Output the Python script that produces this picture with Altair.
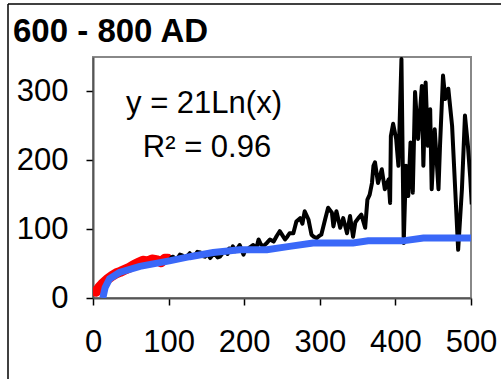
import altair as alt
import pandas as pd

# ---- data ----
red_x = [4, 8, 12, 16, 20, 25, 31, 36, 42, 48, 54, 60, 66, 72, 78, 84, 90, 95, 99]
red_y = [9, 15, 20, 24, 28, 32, 36, 38, 41, 44, 48, 51, 54, 53, 56, 55, 52, 57, 57]

black_x = [101, 104, 106, 109, 112, 115, 118, 121, 124, 128, 131, 135, 138, 142, 145,
           148, 152, 155, 158, 162, 165, 168, 172, 175, 178, 180, 183, 185, 188,
           190, 194, 197, 199, 202, 204, 208, 212, 216, 219, 222, 225, 230, 234, 239, 243,
           247, 250, 254, 257, 260, 265, 269, 274, 277, 280, 285, 289, 292, 296, 299, 302,
           307, 311, 316, 318, 322, 327, 331, 336, 340, 344, 347, 351, 355, 360, 363, 366,
           369, 371, 373, 377, 382, 386, 391, 393, 394, 397, 401, 404, 408, 411, 414, 417,
           420, 423, 426, 430, 435, 437, 440, 443, 446, 448, 452, 457, 459, 463, 466, 470,
           475, 483, 488, 492, 496, 499, 501]
black_y = [55, 59, 60, 56, 58, 63, 62, 57, 60, 65, 60, 62, 67, 66, 61,
           60, 64, 58, 62, 63, 59, 60, 66, 68, 64, 72, 70, 75, 68,
           70, 77, 69, 63, 71, 70, 74, 77, 72, 85, 78, 75, 80, 85, 82, 90,
           97, 92, 85, 89, 94, 94, 111, 116, 108, 126, 114, 92, 89, 87, 90, 92,
           114, 131, 124, 104, 126, 102, 116, 94, 119, 89, 110, 116, 121, 102, 143, 150,
           167, 192, 197, 167, 187, 158, 172, 138, 235, 253, 231, 192, 347, 80, 192, 148,
           226, 153, 299, 231, 308, 192, 313, 221, 274, 158, 245, 158, 221, 323, 289, 304,
           250, 70, 158, 265, 220, 175, 136]

blue_x = [13, 16, 22, 35, 62, 101, 128, 159, 194, 230, 260, 291, 344, 364, 410, 437, 500]
blue_y = [0, 15, 28, 37, 46, 54, 60, 66, 70, 70, 75, 80, 80, 83, 83, 87, 87]

x_ticks = [0, 100, 200, 300, 400, 500]
y_ticks = [0, 50, 100, 150, 200, 250, 300, 350]

title_text = "600 - 800 AD"
eq_text = "y = 21Ln(x)"
r2_text = "R\u00b2 = 0.96"

FONT = "Liberation Sans"

red_df = pd.DataFrame({"x": red_x, "y": red_y})
black_df = pd.DataFrame({"x": black_x, "y": black_y})
blue_df = pd.DataFrame({"x": blue_x, "y": blue_y})
one = pd.DataFrame({"a": [0]})

xenc = alt.X("x:Q", scale=alt.Scale(domain=[0, 500], nice=False),
             axis=alt.Axis(values=x_ticks, title=None, grid=False, labelFontSize=31,
                           labelFont=FONT, labelColor="#000", tickSize=7, tickColor="#000",
                           tickWidth=1.5, domainColor="#555", domainWidth=2,
                           labelPadding=22, labelFlush=False))
yenc = alt.Y("y:Q", scale=alt.Scale(domain=[0, 350], nice=False),
             axis=alt.Axis(values=y_ticks, title=None, grid=False, labelFontSize=31,
                           labelFont=FONT, labelColor="#000", tickSize=7, tickColor="#000",
                           tickWidth=1.5, domainColor="#555", domainWidth=2,
                           labelPadding=18, labelFlush=False,
                           labelExpr="datum.value % 100 == 0 ? datum.label : ''"))

red = alt.Chart(red_df).mark_line(color="#ff0000", strokeWidth=10, clip=True,
                                  strokeCap="round", strokeJoin="round").encode(x=xenc, y=yenc)
black = alt.Chart(black_df).mark_line(color="#000000", strokeWidth=4, clip=True,
                                      strokeJoin="round").encode(x="x:Q", y="y:Q")
blue = alt.Chart(blue_df).mark_line(color="#3a68f8", strokeWidth=7, clip=True).encode(x="x:Q", y="y:Q")

eq = alt.Chart(one).mark_text(text=eq_text, font=FONT, fontSize=31, align="center",
                              baseline="alphabetic", color="#000").encode(
    x=alt.value(111), y=alt.value(56))
r2 = alt.Chart(one).mark_text(text=r2_text, font=FONT, fontSize=31, align="center",
                              baseline="alphabetic", color="#000").encode(
    x=alt.value(114), y=alt.value(100))
ttl = alt.Chart(one).mark_text(text=title_text, font=FONT, fontSize=33, fontWeight="bold",
                               align="left", baseline="alphabetic", color="#000").encode(
    x=alt.value(-80), y=alt.value(-15))

frame_top = alt.Chart(one).mark_rule(color="#000", strokeWidth=1.5).encode(
    x=alt.value(-85), x2=alt.value(420), y=alt.value(-53))
frame_left = alt.Chart(one).mark_rule(color="#000", strokeWidth=1.5).encode(
    x=alt.value(-85), y=alt.value(-53), y2=alt.value(330))

chart = alt.layer(red, black, blue, eq, r2, ttl, frame_top, frame_left).properties(
    width=378, height=241,
    padding={"left": 93, "top": 57, "right": 30, "bottom": 81},
    autosize=alt.AutoSizeParams(type="none"),
    background="white",
).configure_view(stroke="#888", strokeWidth=2)

chart.save("out.html", embed_options={"renderer": "svg", "actions": False})
